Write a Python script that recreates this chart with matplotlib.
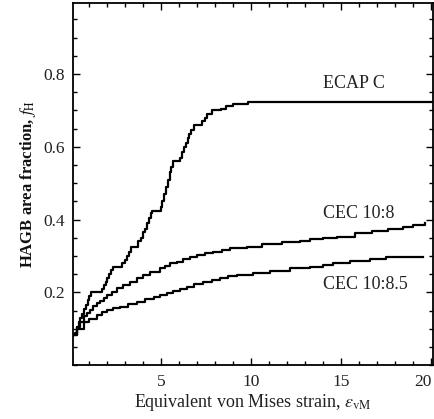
import matplotlib
matplotlib.use("Agg")
import matplotlib.pyplot as plt
from matplotlib.ticker import MultipleLocator, FixedLocator

# ---- data ----
ecap_x = [0.1, 0.2, 0.3, 0.4, 0.5, 0.6, 0.7, 0.8, 0.9, 1.0, 1.1, 1.7, 1.8, 1.9, 2.0,
          2.1, 2.2, 2.3, 2.8, 2.95, 3.1, 3.2, 3.3, 3.7, 3.85, 4.0, 4.1, 4.2, 4.3, 4.4,
          4.5, 4.95, 5.05, 5.15, 5.25, 5.35, 5.45, 5.55, 5.65, 6.05, 6.15, 6.25, 6.35,
          6.45, 6.55, 6.65, 6.8, 7.25, 7.4, 7.55, 7.8, 8.3, 8.6, 9.0, 9.8, 20.05]
ecap_y = [0.083, 0.09, 0.105, 0.118, 0.13, 0.142, 0.154, 0.165, 0.178, 0.19, 0.2, 0.21,
          0.22, 0.23, 0.24, 0.25, 0.262, 0.27, 0.28, 0.29, 0.3, 0.31, 0.326, 0.34, 0.35,
          0.365, 0.375, 0.39, 0.405, 0.418, 0.425, 0.435, 0.45, 0.47, 0.49, 0.51, 0.53,
          0.545, 0.56, 0.57, 0.585, 0.6, 0.61, 0.625, 0.635, 0.645, 0.66, 0.67, 0.68,
          0.69, 0.7, 0.705, 0.712, 0.718, 0.724, 0.724]

cec8_x = [0.1, 0.3, 0.5, 0.67, 0.85, 1.04, 1.2, 1.41, 1.6, 1.78, 2.0, 2.24, 2.55, 2.89,
          3.25, 3.63, 4.0, 4.37, 4.93, 5.2, 5.48, 5.85, 6.22, 6.6, 6.97, 7.43, 7.89, 8.35,
          8.82, 9.74, 10.58, 11.69, 12.7, 13.26, 14.0, 14.74, 15.76, 16.69, 17.6, 18.44,
          19.0, 19.65]
cec8_y = [0.083, 0.106, 0.12, 0.134, 0.143, 0.152, 0.162, 0.17, 0.177, 0.184, 0.193,
          0.202, 0.211, 0.221, 0.23, 0.239, 0.248, 0.257, 0.266, 0.273, 0.28, 0.285,
          0.291, 0.297, 0.303, 0.308, 0.312, 0.317, 0.321, 0.326, 0.333, 0.338, 0.342,
          0.346, 0.349, 0.353, 0.363, 0.37, 0.374, 0.381, 0.385, 0.39]

cec85_x = [0.1, 0.3, 0.67, 1.0, 1.41, 1.7, 1.97, 2.3, 2.7, 3.15, 3.63, 4.1, 4.56, 4.9,
           5.3, 5.65, 6.04, 6.4, 6.8, 7.33, 7.8, 8.26, 8.7, 9.19, 10.1, 11.04, 12.15,
           13.26, 14.0, 14.55, 15.48, 16.6, 17.5, 19.55]
cec85_y = [0.083, 0.1, 0.118, 0.128, 0.138, 0.145, 0.152, 0.157, 0.161, 0.168, 0.175,
           0.181, 0.188, 0.193, 0.198, 0.204, 0.209, 0.216, 0.222, 0.23, 0.235, 0.239,
           0.244, 0.248, 0.254, 0.26, 0.266, 0.27, 0.275, 0.28, 0.287, 0.291, 0.297, 0.298]

labels = ["ECAP C", "CEC 10:8", "CEC 10:8.5"]
label_x = [14.0, 14.0, 14.0]
label_y = [0.773, 0.416, 0.223]

x_ticks = [5, 10, 15, 20]
x_ticklabels = ["5", "10", "15", "20"]
y_ticks = [0.2, 0.4, 0.6, 0.8]
y_ticklabels = ["0.2", "0.4", "0.6", "0.8"]

plt.rcParams['font.family'] = ['Liberation Serif', 'DejaVu Serif']
plt.rcParams['mathtext.fontset'] = 'stix'

fig = plt.figure(figsize=(4.34, 4.19), dpi=100)
ax = fig.add_axes([73.3 / 434, (419 - 365.3) / 419, (432.7 - 73.3) / 434, (365.3 - 3.3) / 419])

for xs, ys in [(ecap_x, ecap_y), (cec8_x, cec8_y), (cec85_x, cec85_y)]:
    ax.plot(xs, ys, color='black', lw=1.6, drawstyle='steps-post')

for t, lx, ly in zip(labels, label_x, label_y):
    ax.text(lx, ly, t, fontsize=13, color='#222222', va='center', ha='left')

ax.set_xlim(0.1, 20.08)
ax.set_ylim(0.0, 0.994)
ax.xaxis.set_major_locator(FixedLocator(x_ticks))
ax.xaxis.set_minor_locator(MultipleLocator(1))
ax.yaxis.set_major_locator(FixedLocator(y_ticks))
ax.yaxis.set_minor_locator(MultipleLocator(0.05))
ax.set_xticklabels(x_ticklabels)
ax.set_yticklabels(y_ticklabels)
ax.tick_params(which='both', direction='in', top=True, right=True, width=1.0,
               labelsize=12.5, labelcolor='#222222')
ax.tick_params(which='major', length=5, pad=6)
ax.tick_params(which='minor', length=3)
xl = ax.get_xticklabels()
xl[-1].set_horizontalalignment('right')
xl[-1].set_x(20.05)
for s in ax.spines.values():
    s.set_linewidth(1.3)

ax.set_xlabel(r"Equivalent von Mises strain, $\varepsilon_{\rm vM}$", fontsize=13,
              color='#222222', labelpad=2)
ax.set_ylabel(r"HAGB area fraction, $f_{\rm H}$", fontsize=12, color='#111111',
              fontweight='bold', labelpad=4)

fig.savefig("out.png", dpi=100)
